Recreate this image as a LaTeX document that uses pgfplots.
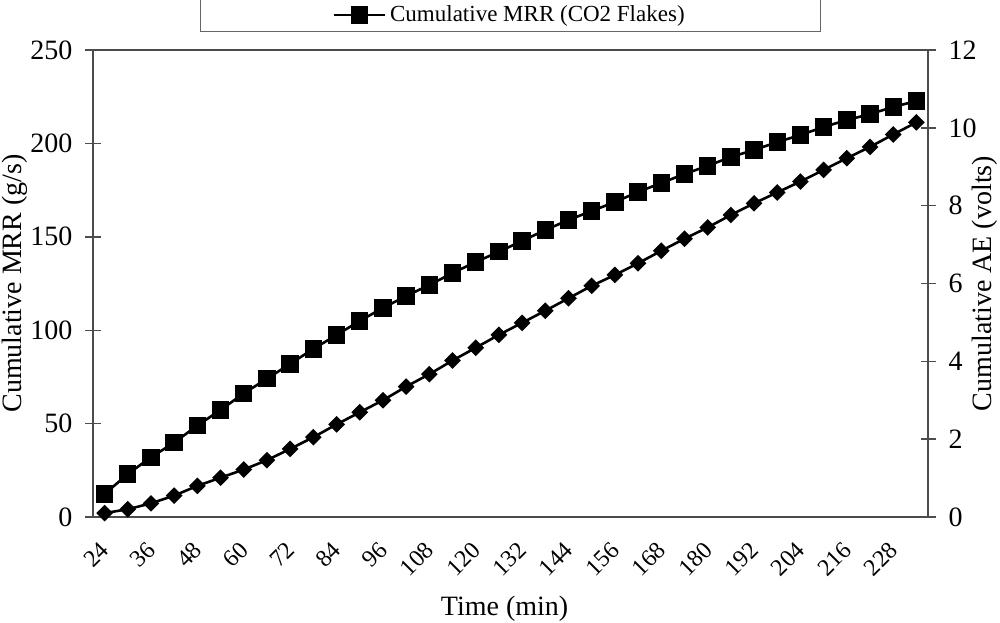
\documentclass[border=0pt]{standalone}
\usepackage{fontspec}
\setmainfont{Liberation Serif}
\usepackage{pgfplots}
\usepackage{pgfplotstable}
\pgfplotsset{compat=1.18}
\pgfplotstableread{
t mrr ae
24 12.3 0.10
30 23.0 0.20
36 32.0 0.35
42 39.8 0.55
48 49.0 0.80
54 57.3 1.01
60 66.2 1.22
66 74.0 1.46
72 82.0 1.75
78 90.0 2.05
84 97.4 2.38
90 105.0 2.69
96 111.9 3.00
102 118.3 3.35
108 124.2 3.67
114 130.6 4.02
120 136.5 4.35
126 142.0 4.68
132 147.8 4.99
138 153.6 5.30
144 159.0 5.62
150 163.8 5.94
156 168.6 6.22
162 174.0 6.52
168 178.8 6.84
174 183.6 7.15
180 188.0 7.44
186 192.7 7.76
192 196.5 8.06
198 200.7 8.34
204 204.5 8.62
210 208.8 8.92
216 212.5 9.22
222 215.7 9.51
228 219.5 9.83
234 222.7 10.14
}\datatable
\pgfplotsset{
  common/.style={
    scale only axis, width=417.5pt, height=233.5pt,
    xmin=21, xmax=237,
    font=\fontsize{14}{16}\selectfont,
    /pgf/number format/assume math mode=true,
    axis line style={draw=black!70, line width=0.9pt},
    tick style={draw=black!70, line width=0.7pt},
    tick align=center,
    major tick length=7.5pt, minor tick length=6pt,
  }
}
\begin{document}
\begin{tikzpicture}
\useasboundingbox (-46.5pt,-52.5pt) rectangle (453.5pt,258.5pt);
\begin{axis}[common,
  ymin=0, ymax=250, ytick={0,50,...,250},
  ytick pos=left, xtick pos=bottom,
  xtick={24,36,...,228}, xtick style={draw=none},
  minor xtick={21,27,...,237},
  xticklabel style={rotate=45, anchor=north east, inner sep=1pt, xshift=-6.4pt, yshift=-2.6pt, font=\fontsize{12}{14}\selectfont},
  yticklabel style={xshift=-3pt},
  xlabel={Time (min)}, ylabel={Cumulative MRR (g/s)},
  xlabel style={at={(axis description cs:0.493,-0.197)}, anchor=center},
  ylabel style={at={(axis description cs:-0.0934,0.5)}, anchor=center},
  legend style={at={(0.5,1)}, anchor=south, yshift=9pt, draw=black!60,
    line width=0.6pt, inner xsep=66pt, inner ysep=1.5pt,
    font=\fontsize{11.5}{14}\selectfont},
  legend image code/.code={\draw[mark repeat=2,mark phase=2] plot coordinates {(0cm,0cm)(0.45cm,0cm)(0.9cm,0cm)};},
]
\addplot[black, line width=1.3pt, mark=square*, mark size=3.7pt, mark options={solid}] table[x=t,y=mrr]{\datatable};
\addlegendentry{Cumulative MRR (CO2 Flakes)}
\end{axis}
\begin{axis}[common,
  axis x line=none, axis y line*=right,
  ymin=0, ymax=12, ytick={0,2,...,12},
  yticklabel style={xshift=3pt},
  ylabel={Cumulative AE (volts)},
  ylabel style={at={(axis description cs:1.068,0.5)}, anchor=center},
]
\addplot[black, line width=1.3pt, mark=square*, mark size=2.3pt, mark options={solid, rotate=45}] table[x=t,y=ae]{\datatable};
\end{axis}
\end{tikzpicture}
\end{document}
